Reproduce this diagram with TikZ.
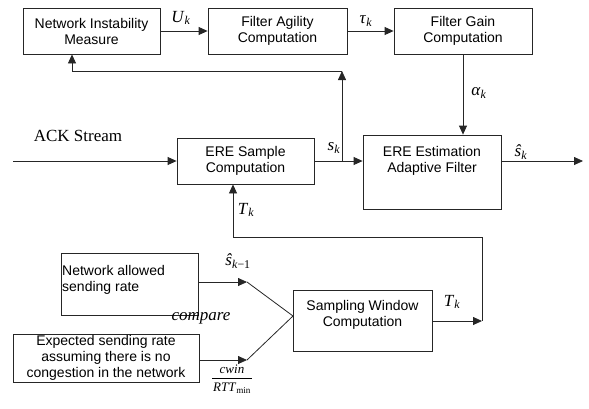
\documentclass[tikz,border=0pt]{standalone}
\usepackage{fontspec}
\setmainfont{Liberation Serif}
\newfontfamily\arialf{Liberation Sans}
\usetikzlibrary{arrows.meta}
\tikzset{
  box/.style={draw=black!85, line width=0.8pt, inner sep=0pt},
  btxt/.style={font=\arialf\fontsize{14}{16}\selectfont, align=center, inner sep=0pt},
  lbl/.style={font=\fontsize{17}{19}\selectfont, inner sep=0pt},
  conn/.style={draw=black!85, line width=0.8pt},
  arr/.style={conn, -{Triangle[length=9pt,width=8pt]}}
}
\begin{document}
\begin{tikzpicture}[x=1pt,y=-1pt]
\useasboundingbox (0,0) rectangle (589,408);
% boxes
\node[box, minimum width=137pt, minimum height=46pt] (nim) at (91.5,31) {};
\node[btxt] (nimt) at (91.5,31) {Network Instability\\Measure};
\node[box, minimum width=139pt, minimum height=46pt] (fac) at (277.5,31) {};
\node[btxt] (fact) at (277.5,31) {Filter Agility\\Computation};
\node[box, minimum width=138pt, minimum height=46pt] (fgc) at (463,31) {};
\node[btxt] (fgct) at (463,31) {Filter Gain\\Computation};
\node[box, minimum width=137pt, minimum height=46pt] (esc) at (245.5,161) {};
\node[btxt] (esct) at (245.5,161) {ERE Sample\\Computation};
\node[box, minimum width=138pt, minimum height=74pt] (eef) at (432,172) {};
\node[btxt] (eeft) at (432,161) {ERE Estimation\\Adaptive Filter};
\node[box, minimum width=139pt, minimum height=61pt] (swc) at (362.5,320.5) {};
\node[btxt] (swct) at (362.5,314.5) {Sampling Window\\Computation};
\node[box, minimum width=137pt, minimum height=62pt] (nasr) at (129.5,284) {};
\node[btxt, align=left, anchor=west] (nasrt) at (62,279.5) {Network allowed\\sending rate};
\node[box, minimum width=186pt, minimum height=48pt] (esr) at (106,358) {};
\node[btxt] (esrt) at (106,358) {Expected sending rate\\assuming there is no\\congestion in the network};
% coordinates
\coordinate (ack) at (13,161);
\coordinate (fb1) at (342,161);
\coordinate (fb2) at (342,71);
\coordinate (fb3) at (72,71);
\coordinate (out) at (583,161);
\coordinate (t1) at (482,321);
\coordinate (t2) at (482,237);
\coordinate (t3) at (233,237);
\coordinate (c1) at (247,282);
\coordinate (c2) at (247,360);
\coordinate (conv) at (293,316);
% connectors
\draw[arr] (nim.east) -- (fac.west);
\draw[arr] (fac.east) -- (fgc.west);
\draw[arr] (fgc.south) -- (fgc.south |- eef.north);
\draw[arr] (ack) -- (ack -| esc.west);
\draw[arr] (esc.east) -- (esc.east -| eef.west);
\draw[arr] (fb1) -- (fb2);
\draw[arr] (fb2) -- (fb3) -- (fb3 |- nim.south);
\draw[arr] (eef.east |- out) -- (out);
\draw[arr] (swc.east |- t1) -- (t1);
\draw[arr] (t1) -- (t2) -- (t3) -- (t3 |- esc.south);
\draw[arr] (nasr.east |- c1) -- (c1);
\draw[conn] (c1) -- (conv);
\draw[arr] (esr.east |- c2) -- (c2);
\draw[conn] (c2) -- (conv);
% labels
\node[lbl] (lu) at (181,18) {\textit{U}\textsubscript{\textit{k}}};
\node[lbl] (ltau) at (366,21) {\textit{τ}\textsubscript{\textit{k}}};
\node[lbl] (lalpha) at (479,93) {\textit{α}\textsubscript{\textit{k}}};
\node[lbl] (lack) at (78,136) {ACK Stream};
\node[lbl] (lsk) at (334,148) {\textit{s}\textsubscript{\textit{k}}};
\node[lbl] (lshk) at (521,152) {\textit{ŝ}\textsubscript{\textit{k}}};
\node[lbl] (ltk1) at (246,210) {\textit{T}\textsubscript{\textit{k}}};
\node[lbl] (lshk1) at (238,261) {\textit{ŝ}\textsubscript{\textit{k}−1}};
\node[lbl] (lcmp) at (201,318) {\textit{compare}};
\node[lbl] (ltk2) at (452,302) {\textit{T}\textsubscript{\textit{k}}};
\node[inner sep=0pt, font=\fontsize{13}{14}\selectfont] (lfrac) at (232,380) {\renewcommand\arraystretch{0.9}\setlength\tabcolsep{1pt}\begin{tabular}{c}\textit{cwin}\\[1pt]\hline\rule{0pt}{13pt}\textit{RTT}\textsubscript{min}\end{tabular}};
\end{tikzpicture}
\end{document}
